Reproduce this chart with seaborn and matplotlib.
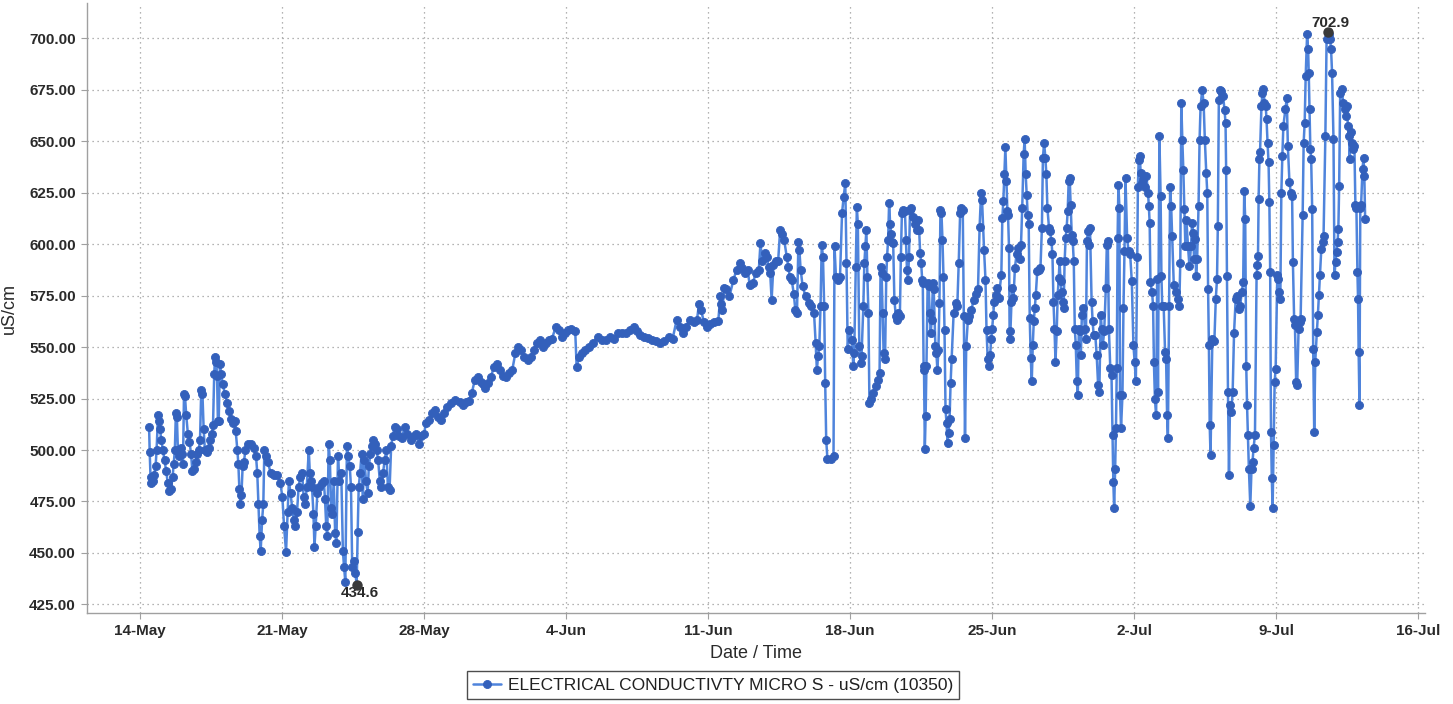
import matplotlib
matplotlib.use("Agg")
import matplotlib.pyplot as plt
import pandas as pd
import seaborn as sns

# Logger record: days elapsed since the first tick date, and conductivity (uS/cm)
start_date = "2019-05-14"

day_offset = [
    # 14 - 21 May
    0.45, 0.48, 0.52, 0.56, 0.62, 0.70, 0.77, 0.82, 0.89, 0.94, 0.99, 1.05, 1.13, 1.21, 1.29,
    1.37, 1.45, 1.53, 1.61, 1.66, 1.72, 1.77, 1.82, 1.87, 1.93, 2.01, 2.07, 2.12, 2.17, 2.22,
    2.28, 2.36, 2.44, 2.52, 2.58, 2.66, 2.74, 2.82, 2.90, 2.96, 3.02, 3.08, 3.14, 3.20, 3.30,
    3.38, 3.46, 3.54, 3.60, 3.66, 3.70, 3.76, 3.80, 3.84, 3.88, 3.94, 4.00, 4.08, 4.19, 4.30,
    4.40, 4.51, 4.60, 4.67, 4.72, 4.80, 4.85, 4.90, 4.95, 5.00, 5.06, 5.12, 5.20, 5.31, 5.45,
    5.60, 5.72, 5.78, 5.84, 5.90, 5.95, 6.02, 6.08, 6.13, 6.20, 6.30, 6.44, 6.60, 6.76, 6.92,
    7.02, 7.10, 7.20,
    # 21 - 28 May
    7.28, 7.34, 7.42, 7.50, 7.58, 7.66, 7.74, 7.82, 7.90, 7.99, 8.07, 8.15, 8.22, 8.32, 8.37,
    8.42, 8.48, 8.55, 8.60, 8.66, 8.74, 8.84, 8.95, 9.06, 9.12, 9.18, 9.23, 9.30, 9.36, 9.42,
    9.47, 9.55, 9.62, 9.68, 9.76, 9.83, 9.92, 10.00, 10.06, 10.12, 10.20, 10.26, 10.34, 10.40, 10.46,
    10.55, 10.62, 10.68, 10.73, 10.78, 10.85, 10.92, 10.98, 11.06, 11.14, 11.22, 11.28, 11.35, 11.42, 11.50,
    11.58, 11.66, 11.74, 11.82, 11.90, 11.98, 12.06, 12.14, 12.22, 12.30, 12.38, 12.46, 12.55, 12.65, 12.75,
    12.90, 13.05, 13.18, 13.35, 13.50, 13.62, 13.75, 13.85,
    # 28 May - 11 Jun
    14.00, 14.10, 14.25, 14.40, 14.55, 14.70, 14.85, 15.00, 15.15, 15.35, 15.55, 15.75, 15.90, 16.05, 16.20,
    16.35, 16.50, 16.65, 16.80, 16.90, 17.00, 17.15, 17.30, 17.45, 17.60, 17.75, 17.90, 18.05, 18.20, 18.35,
    18.50, 18.65, 18.80, 18.95, 19.10, 19.25, 19.40, 19.55, 19.70, 19.85, 20.00, 20.15, 20.30, 20.50, 20.65,
    20.80, 20.95, 21.10, 21.25, 21.45, 21.52, 21.65, 21.80, 21.95, 22.15, 22.35, 22.55, 22.75, 22.95, 23.15,
    23.35, 23.55, 23.75, 23.95, 24.15, 24.35, 24.50, 24.65, 24.85, 25.05, 25.25, 25.45, 25.65, 25.85, 26.05,
    26.25, 26.45, 26.60, 26.75, 26.90, 27.10, 27.30, 27.45, 27.55, 27.65, 27.80, 27.95, 28.10, 28.30, 28.50,
    # 11 - 18 Jun
    28.60, 28.65, 28.70, 28.80, 28.90, 29.05, 29.25, 29.40, 29.55, 29.65, 29.80, 29.95, 30.05, 30.20, 30.35,
    30.50, 30.58, 30.66, 30.78, 30.88, 30.98, 31.06, 31.13, 31.22, 31.35, 31.45, 31.55, 31.65, 31.75, 31.87,
    31.95, 32.03, 32.12, 32.22, 32.30, 32.38, 32.45, 32.50, 32.56, 32.66, 32.80, 32.95, 33.08, 33.22, 33.30,
    33.36, 33.42, 33.48, 33.54, 33.60, 33.66, 33.72, 33.77, 33.82, 33.88, 34.05, 34.18, 34.23, 34.30, 34.40,
    34.50, 34.60, 34.68, 34.76, 34.82, 34.88, 34.95,
    # 18 - 25 Jun
    35.10, 35.15, 35.20, 35.28, 35.33, 35.38, 35.45, 35.52, 35.56, 35.65, 35.70, 35.75, 35.80, 35.85, 35.90,
    35.95, 36.05, 36.15, 36.25, 36.35, 36.45, 36.50, 36.55, 36.60, 36.65, 36.72, 36.78, 36.82, 36.87, 36.92,
    36.97, 37.02, 37.07, 37.12, 37.18, 37.25, 37.32, 37.38, 37.45, 37.50, 37.55, 37.62, 37.70, 37.75, 37.80,
    37.85, 37.90, 37.95, 38.00, 38.08, 38.18, 38.28, 38.35, 38.40, 38.45, 38.50, 38.55, 38.58, 38.62, 38.64,
    38.68, 38.72, 38.76, 38.82, 38.87, 38.92, 38.97, 39.02, 39.08, 39.12, 39.20, 39.25, 39.30, 39.35, 39.40,
    39.45, 39.50, 39.55, 39.60, 39.65, 39.70, 39.75, 39.80, 39.85, 39.90, 39.95, 40.00, 40.10, 40.20, 40.28,
    40.35, 40.42, 40.48, 40.55, 40.60, 40.66, 40.72, 40.80, 40.88, 40.98, 41.08, 41.18, 41.30, 41.38, 41.45,
    41.50, 41.60, 41.67, 41.72, 41.78, 41.85,
    # 25 Jun - 2 Jul
    41.90, 41.95, 42.00, 42.05, 42.10, 42.18, 42.26, 42.32, 42.45, 42.50, 42.55, 42.60, 42.65, 42.70, 42.75,
    42.78, 42.83, 42.86, 42.90, 42.95, 43.00, 43.05, 43.12, 43.20, 43.28, 43.35, 43.42, 43.48, 43.55, 43.60,
    43.65, 43.70, 43.75, 43.80, 43.85, 43.90, 43.95, 44.00, 44.05, 44.10, 44.15, 44.22, 44.30, 44.38, 44.45,
    44.50, 44.56, 44.62, 44.67, 44.72, 44.80, 44.85, 44.92, 44.97, 45.02, 45.07, 45.12, 45.18, 45.23, 45.28,
    45.32, 45.37, 45.42, 45.47, 45.52, 45.57, 45.62, 45.67, 45.72, 45.77, 45.82, 45.87, 45.92, 45.97, 46.02,
    46.07, 46.12, 46.17, 46.22, 46.27, 46.32, 46.37, 46.42, 46.50, 46.57, 46.62, 46.67, 46.72, 46.77, 46.82,
    46.90, 46.95, 47.00, 47.08, 47.15, 47.22, 47.28, 47.35, 47.40, 47.45, 47.52, 47.60, 47.65, 47.70, 47.75,
    47.82, 47.88, 47.93, 47.97, 48.01, 48.06, 48.10, 48.14, 48.18, 48.22, 48.27, 48.30, 48.35, 48.42, 48.47,
    48.52, 48.57, 48.65, 48.72, 48.80, 48.88, 48.96, 49.02, 49.08,
    # 2 - 9 Jul
    49.15, 49.18, 49.22, 49.27, 49.32, 49.38, 49.45, 49.52, 49.60, 49.68, 49.72, 49.76, 49.80, 49.88, 49.93,
    49.97, 50.02, 50.08, 50.13, 50.17, 50.24, 50.30, 50.34, 50.38, 50.45, 50.52, 50.57, 50.62, 50.66, 50.72,
    50.77, 50.82, 50.87, 50.95, 51.05, 51.15, 51.22, 51.27, 51.32, 51.37, 51.42, 51.47, 51.52, 51.57, 51.65,
    51.72, 51.80, 51.85, 51.90, 51.95, 52.00, 52.05, 52.10, 52.17, 52.22, 52.27, 52.35, 52.42, 52.48, 52.55,
    52.60, 52.64, 52.68, 52.72, 52.76, 52.85, 52.95, 53.02, 53.08, 53.12, 53.17, 53.22, 53.30, 53.38, 53.45,
    53.50, 53.53, 53.57, 53.62, 53.67, 53.72, 53.78, 53.85, 53.92, 54.00, 54.08, 54.15, 54.22, 54.30, 54.37,
    54.42, 54.47, 54.52, 54.56, 54.60, 54.65, 54.72, 54.78, 54.83, 54.88, 54.95,
    # 9 - 13 Jul
    55.03, 55.07, 55.10, 55.13, 55.17, 55.20, 55.27, 55.32, 55.37, 55.42, 55.48, 55.52, 55.57, 55.62, 55.66,
    55.70, 55.74, 55.78, 55.82, 55.87, 55.92, 55.97, 56.05, 56.10, 56.15, 56.20, 56.25, 56.30, 56.35, 56.45,
    56.52, 56.57, 56.65, 56.72, 56.78, 56.82, 56.88, 56.92, 56.98, 57.03, 57.10, 57.15, 57.20, 57.30, 57.35,
    57.40, 57.45, 57.52, 57.57, 57.60, 57.64, 57.68, 57.72, 57.77, 57.82, 57.87, 57.92, 58.00, 58.05, 58.10,
    58.15, 58.22, 58.28, 58.33, 58.42, 58.48, 58.53, 58.60, 58.65, 58.70, 58.75, 58.82, 58.87, 58.92, 58.97,
    59.02, 59.06, 59.10, 59.15, 59.22, 59.30, 59.37, 59.43, 59.48, 59.53, 59.58, 59.62, 59.68, 59.73, 59.80,
    59.85, 59.90, 59.95, 60.00, 60.03, 60.06, 60.10, 60.14, 60.18, 60.25, 60.30, 60.34, 60.38,
]

ec_values = [
    # 14 - 21 May
    511, 499, 487, 484, 485, 488, 492, 500, 517, 514, 510, 505, 500, 495, 490,
    484, 480, 481, 487, 493, 500, 518, 516, 500, 497, 501, 498, 493, 527, 526,
    517, 508, 504, 498, 490, 491, 494, 498, 500, 505, 529, 527, 510, 500, 499,
    501, 505, 508, 512, 537, 545, 543, 536, 514, 514, 542, 537, 532, 527, 523,
    519, 515, 513, 514, 509, 500, 493, 481, 474, 478, 492, 494, 500, 503, 503,
    501, 497, 489, 474, 458, 451, 466, 474, 500, 497, 494, 489, 488, 488, 484,
    477, 463, 450.6,
    # 21 - 28 May
    470, 485, 479, 472, 466, 463, 470, 482, 487, 489, 477, 474, 482, 500, 489,
    485, 482, 469, 453, 463, 479, 482, 484, 485, 476, 463, 458, 503, 495, 472,
    469, 485, 459.5, 455, 497, 485, 489, 451, 443, 436, 502, 497, 492, 482, 443,
    446, 440, 434.6, 460, 482, 489, 498, 476, 495, 485, 479, 492, 498, 502, 505,
    503, 500, 495, 485, 482, 489, 495, 500, 482, 480.5, 502, 507, 511, 510, 507,
    506, 511, 508, 505, 507, 508, 503, 507,
    # 28 May - 11 Jun
    508, 513, 514.6, 518, 519.4, 516, 514.6, 518, 521, 522.7, 524.3, 523.5, 522, 523.5, 524,
    527.5, 534, 535.7, 533, 532, 530, 532.4, 535.7, 540.5, 542, 539, 536, 535.7, 537.3, 539,
    547, 550, 548.6, 545, 543.8, 545.4, 548.6, 551.9, 553.5, 550, 551.9, 553.5, 554, 560, 558.3,
    555, 556.7, 558.3, 559, 558, 540.5, 545.4, 547, 548.6, 550, 552, 555, 553.5, 553.5, 555,
    554, 556.7, 557, 556.7, 558.3, 560, 558, 556, 555, 554.3, 553.5, 553, 551.9, 553, 555,
    554, 563.2, 560, 556.7, 560, 563.2, 562, 563, 571, 568, 562, 560, 561, 562, 562.6,
    # 11 - 18 Jun
    574.7, 571, 568, 578.7, 578, 574.7, 582.7, 587.6, 590.8, 588.4, 586, 587.6, 580, 581, 586,
    587.6, 600.5, 592, 595.6, 594, 589, 586, 573, 590, 592, 591.6, 607, 605, 602, 594,
    589, 584, 582.7, 576, 568, 566.6, 601, 597, 587.6, 579.5, 574.7, 571.5, 570, 566.6, 552,
    539, 545.6, 550.5, 570, 599.7, 594, 570, 532.7, 505, 495.6, 495.6, 497, 599, 584, 582.7,
    584, 615, 623, 629.5, 591, 548.9, 558.5,
    # 18 - 25 Jun
    553.6, 540.7, 547, 589, 618, 610, 550.4, 542.3, 545.6, 569.8, 590.8, 598.9, 607, 584, 566.6,
    523, 524.6, 527.8, 531, 534, 537.5, 589, 585.9, 566.6, 547, 544, 584.3, 594, 602, 620,
    610, 605, 601, 600.5, 573, 565, 563, 566.6, 565, 594, 615, 616.6, 616, 602, 587.6,
    582.7, 594, 616.6, 617.4, 613, 610, 607, 611.8, 607, 595.6, 590.8, 582.7, 581, 540.7, 539,
    500.3, 516.5, 540.7, 581, 579.5, 566.6, 557, 563, 581, 578, 550.4, 547, 539, 548.8, 571.4,
    616.6, 615, 602, 584.3, 558.5, 519.7, 513, 503.5, 508.4, 515, 532.6, 544, 566.6, 571.4, 569.8,
    590.8, 615, 617.4, 616.6, 565, 506, 550.4, 563, 565, 568, 573, 576, 578, 608.5, 624.7,
    621.5, 597, 582.7, 558.5, 544, 540.7,
    # 25 Jun - 2 Jul
    546, 554, 559, 565.7, 572, 575.5, 578.7, 573.9, 585, 612.8, 621, 634, 647, 630.7, 616,
    614.4, 598, 554, 557.6, 572, 578.7, 573.9, 588.5, 595, 598, 593, 599.8, 617.7, 643.7, 651,
    634, 624, 614.4, 609.6, 564, 544.6, 533.3, 551, 562.5, 569, 575.5, 586.8, 587.7, 588.5, 608,
    642, 649.4, 642, 634, 617.7, 608, 606.3, 601.5, 595, 572, 559, 543, 557.6, 575.5, 583.6,
    591.7, 582, 577, 572, 569, 591.7, 603, 608, 616, 630.7, 632, 619, 604.7, 601.5, 591.7,
    559, 551, 533.3, 526.8, 559, 557.6, 546, 565.7, 569, 559, 554, 601.5, 606.3, 599.8, 608,
    572, 562.5, 556, 556, 546, 531.7, 528.4, 565.7, 559, 551, 557.6, 578.7, 599.8, 601.5, 559,
    539.8, 536.5, 507.3, 484.6, 471.6, 491, 510.6, 539.8, 603, 629, 617.7, 526.8, 510.6, 526.8, 569,
    596.6, 632, 603, 596.6, 595, 582, 551, 543, 533.3,
    # 2 - 9 Jul
    594, 628, 641, 642.7, 634.7, 629.8, 631.5, 628, 633, 625, 618.5, 610.5, 581.5, 576.6, 570,
    542.7, 525, 517, 583, 528, 652.4, 623.4, 584.7, 570, 570, 547.6, 544.4, 517, 505.6, 570,
    628, 618.5, 604, 580, 576.6, 573.4, 570, 591, 668.5, 650.8, 636, 617, 599, 612, 599,
    589.5, 599, 610.5, 605.6, 592.7, 602.4, 584.7, 592.7, 618.5, 650.8, 667, 675, 668.5, 650.8, 634.7,
    625, 578, 550.8, 512, 497.6, 554, 553.2, 573.4, 583, 608.9, 670, 675, 674.2, 671.8, 665.3,
    658.9, 636, 584.7, 528, 488, 521.8, 518.5, 528, 557, 573.4, 575, 568.5, 570, 576.6, 581.6,
    626, 612.3, 541, 521.8, 507.3, 491, 473, 491, 494.3, 500.8, 507.3,
    # 9 - 13 Jul
    584.8, 589.7, 594.5, 622, 641.4, 644.6, 667, 673.7, 675.3, 668.8, 667, 660.7, 649.4, 639.7, 620.4,
    586.4, 508.9, 486.3, 471.7, 502.4, 533, 539.6, 584.8, 583.2, 576.7, 573.5, 625, 643, 657.5, 665.6,
    671.2, 647.8, 630, 625, 623.6, 591.3, 563.8, 560.6, 533, 531.5, 559, 562.2, 563.8, 614, 649.4,
    659, 681.7, 702, 694.7, 683.4, 665.6, 646.2, 641.4, 617.1, 549.3, 508.9, 542.8, 557.4, 565.4, 575.1,
    584.8, 597.7, 601, 604, 652.7, 699.5, 702.9, 702, 699.5, 694.7, 683.4, 651, 584.8, 591.3, 596,
    601, 607.4, 628.4, 673.7, 675.3, 668.8, 665.6, 662.4, 667, 657.5, 652.7, 641.4, 654.3, 649.4, 646.2,
    647.8, 619, 617.4, 586.4, 573.5, 547.7, 521.8, 617.4, 619, 636.5, 642, 633.3, 612.3,
]

tick_labels = ["14-May", "21-May", "28-May", "4-Jun", "11-Jun", "18-Jun",
               "25-Jun", "2-Jul", "9-Jul", "16-Jul"]
y_ticks = [425, 450, 475, 500, 525, 550, 575, 600, 625, 650, 675, 700]
series_label = "ELECTRICAL CONDUCTIVTY MICRO S - uS/cm (10350)"
x_title = "Date / Time"
y_title = "uS/cm"

sns.set_theme(style="white")
plt.rcParams["font.family"] = ["Liberation Sans", "DejaVu Sans"]

t0 = pd.Timestamp(start_date)
df = pd.DataFrame({
    "time": t0 + pd.to_timedelta(day_offset, unit="D"),
    "ec": ec_values,
})

W, H = 1453, 704
fig = plt.figure(figsize=(W / 100, H / 100), dpi=100)
fig.patch.set_facecolor("white")
ax = fig.add_axes([87 / W, 1 - 613 / H, (1425 - 87) / W, (613 - 3) / H])

line_blue = "#4f84dc"
dot_blue = "#3360bb"
sns.lineplot(data=df, x="time", y="ec", ax=ax, estimator=None, sort=False,
             color=line_blue, linewidth=1.8, marker="o", markersize=5.8,
             markerfacecolor=dot_blue, markeredgecolor=dot_blue,
             markeredgewidth=0.6, label=series_label, legend=False)

# Extreme value call-outs
i_min = df["ec"].idxmin()
i_max = df["ec"].idxmax()
for i, dy, va in [(i_min, -1, "top"), (i_max, 2, "bottom")]:
    t, v = df.loc[i, "time"], df.loc[i, "ec"]
    ax.plot([t], [v], marker="o", markersize=6.5, color="#3a3a3a", zorder=5)
    ax.annotate(f"{v:.1f}", (t, v), xytext=(2, dy), textcoords="offset points",
                ha="center", va=va, fontsize=11, color="#2a2a2a", fontweight="bold")

# Axes, ticks and grid
tick_dates = pd.to_datetime([f"{s}-{t0.year}" for s in tick_labels], format="%d-%b-%Y")
ax.set_xticks(tick_dates)
ax.set_xticklabels(tick_labels)
ax.set_xlim(t0 - pd.Timedelta(days=2.61), t0 + pd.Timedelta(days=63.33))
ax.set_yticks(y_ticks)
ax.set_yticklabels([f"{v:.2f}" for v in y_ticks])
ax.set_ylim(420.8, 717.2)

ax.grid(True, linestyle=(0, (1, 3)), color="#9a9a9a", linewidth=0.9)
for side in ["top", "right"]:
    ax.spines[side].set_visible(False)
for side in ["left", "bottom"]:
    ax.spines[side].set_color("#a0a0a0")
    ax.spines[side].set_linewidth(1.0)
ax.tick_params(axis="both", which="major", length=4, width=0.8, color="#a0a0a0",
               labelsize=11, labelcolor="#2a2a2a", pad=4, bottom=True, left=True)
for lbl in ax.get_xticklabels() + ax.get_yticklabels():
    lbl.set_fontweight("bold")

ax.set_xlabel(x_title, fontsize=13, color="#2a2a2a", labelpad=5)
ax.set_ylabel(y_title, fontsize=13, color="#2a2a2a", labelpad=8)

# Legend below the plot
handles, labels = ax.get_legend_handles_labels()
leg = fig.legend(handles, labels, loc="center",
                 bbox_to_anchor=(713 / W, 1 - 685 / H), frameon=True,
                 fancybox=False, edgecolor="#202020", fontsize=12.5,
                 handlelength=1.6, handletextpad=0.4, borderpad=0.35)
leg.get_frame().set_linewidth(1.0)
for txt in leg.get_texts():
    txt.set_color("#202020")

fig.savefig("out.png", dpi=100, facecolor="white")
